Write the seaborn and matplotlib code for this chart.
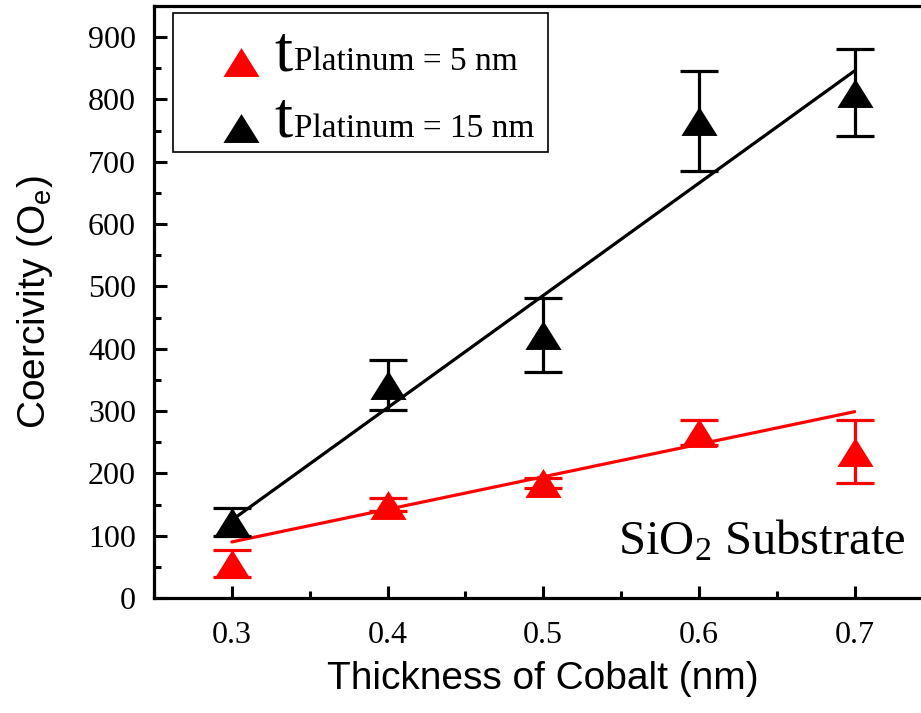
import numpy as np
import pandas as pd
import matplotlib
matplotlib.use("Agg")
import matplotlib.pyplot as plt
from matplotlib.ticker import MultipleLocator
from matplotlib.patches import Rectangle
import seaborn as sns

# ---- data ----
thickness = [0.3, 0.4, 0.5, 0.6, 0.7]
hc_5nm = [55, 150, 185, 265, 235]
err_5nm = [22, 10, 8, 20, 50]
hc_15nm = [122, 342, 422, 766, 811]
err_15nm = [22, 40, 60, 80, 70]

# linear fit lines as drawn in the figure
fit_x = [0.3, 0.7]
fit_5nm = [90, 299]
fit_15nm = [125, 846]

labels = ["Platinum = 5 nm", "Platinum = 15 nm"]
colors = ["#ff0000", "#000000"]

sns.set_style("ticks")
plt.rcParams["font.family"] = ["Liberation Serif", "DejaVu Serif"]
plt.rcParams["mathtext.default"] = "regular"
for k in ["text.color", "axes.labelcolor", "xtick.color", "ytick.color"]:
    plt.rcParams[k] = "black"

fig = plt.figure(figsize=(9.21, 7.13), dpi=100)
ax = fig.add_axes([154 / 921, 115 / 713, 778.5 / 921, 592 / 713])

# triangle a bit wider than tall, like the original markers
tri = [(0, 0.8), (-1, -0.8), (1, -0.8), (0, 0.8)]

series = [(hc_5nm, err_5nm, fit_5nm), (hc_15nm, err_15nm, fit_15nm)]
for (vals, errs, fit), lab, col in zip(series, labels, colors):
    sns.lineplot(x=fit_x, y=fit, color=col, lw=2.3, ax=ax, zorder=3)
    ax.errorbar(thickness, vals, yerr=errs, fmt="none", ecolor=col,
                elinewidth=2.3, capsize=13.5, capthick=2.3, zorder=4)
    sns.scatterplot(x=thickness, y=vals, marker=tri, s=26 ** 2, color=col,
                    edgecolor=col, linewidth=0, ax=ax, zorder=5, label=lab)

ax.set_xlim(0.25, 0.75)
ax.set_ylim(0, 950)
ax.xaxis.set_major_locator(MultipleLocator(0.1))
ax.xaxis.set_minor_locator(MultipleLocator(0.05))
ax.yaxis.set_major_locator(MultipleLocator(100))
ax.yaxis.set_minor_locator(MultipleLocator(50))
ax.set_xticks([0.3, 0.4, 0.5, 0.6, 0.7])
ax.set_xticklabels(["0.3", "0.4", "0.5", "0.6", "0.7"])

ax.tick_params(which="both", direction="in", width=2.2, labelsize=23,
               top=False, right=False)
ax.tick_params(which="major", length=9)
ax.tick_params(axis="y", which="major", pad=13)
ax.tick_params(axis="x", which="major", pad=16.5)
ax.tick_params(which="minor", length=5)
for sp in ax.spines.values():
    sp.set_linewidth(2.3)
    sp.set_color("black")

sans = ["Liberation Sans", "DejaVu Sans"]
ax.set_xlabel("Thickness of Cobalt (nm)", family=sans, fontsize=28, labelpad=8)
ax.set_ylabel("Coercivity (O$_{e}$)", family=sans, fontsize=28, labelpad=24)

ax.text(0.965, 0.073, "SiO$_{2}$ Substrate", transform=ax.transAxes,
        ha="right", va="baseline", fontsize=35)

leg = ax.legend(loc="upper left", bbox_to_anchor=(0.0754, 0.945),
                borderaxespad=0, frameon=False, fontsize=24,
                handlelength=1.2, handletextpad=0.98, borderpad=0.25,
                labelspacing=1.07)

# big "t" in front of each legend label (t_Platinum) and the legend box
fig.canvas.draw()
inv = fig.transFigure.inverted()
for txt in leg.get_texts():
    px, py = txt.get_transform().transform(txt.get_position())
    fx, fy = inv.transform((px - 1, py))
    fig.text(fx, fy, "t", ha="right", va="baseline", fontsize=47)

bb = leg.get_window_extent()
x0, y0 = inv.transform((bb.x0 - 40, bb.y0))
x1, y1 = inv.transform((bb.x1 + 6, bb.y1 + 26))
fig.add_artist(Rectangle((x0, y0), x1 - x0, y1 - y0, transform=fig.transFigure,
                         fill=False, edgecolor="black", linewidth=1.2))

fig.savefig("out.png", dpi=100)
